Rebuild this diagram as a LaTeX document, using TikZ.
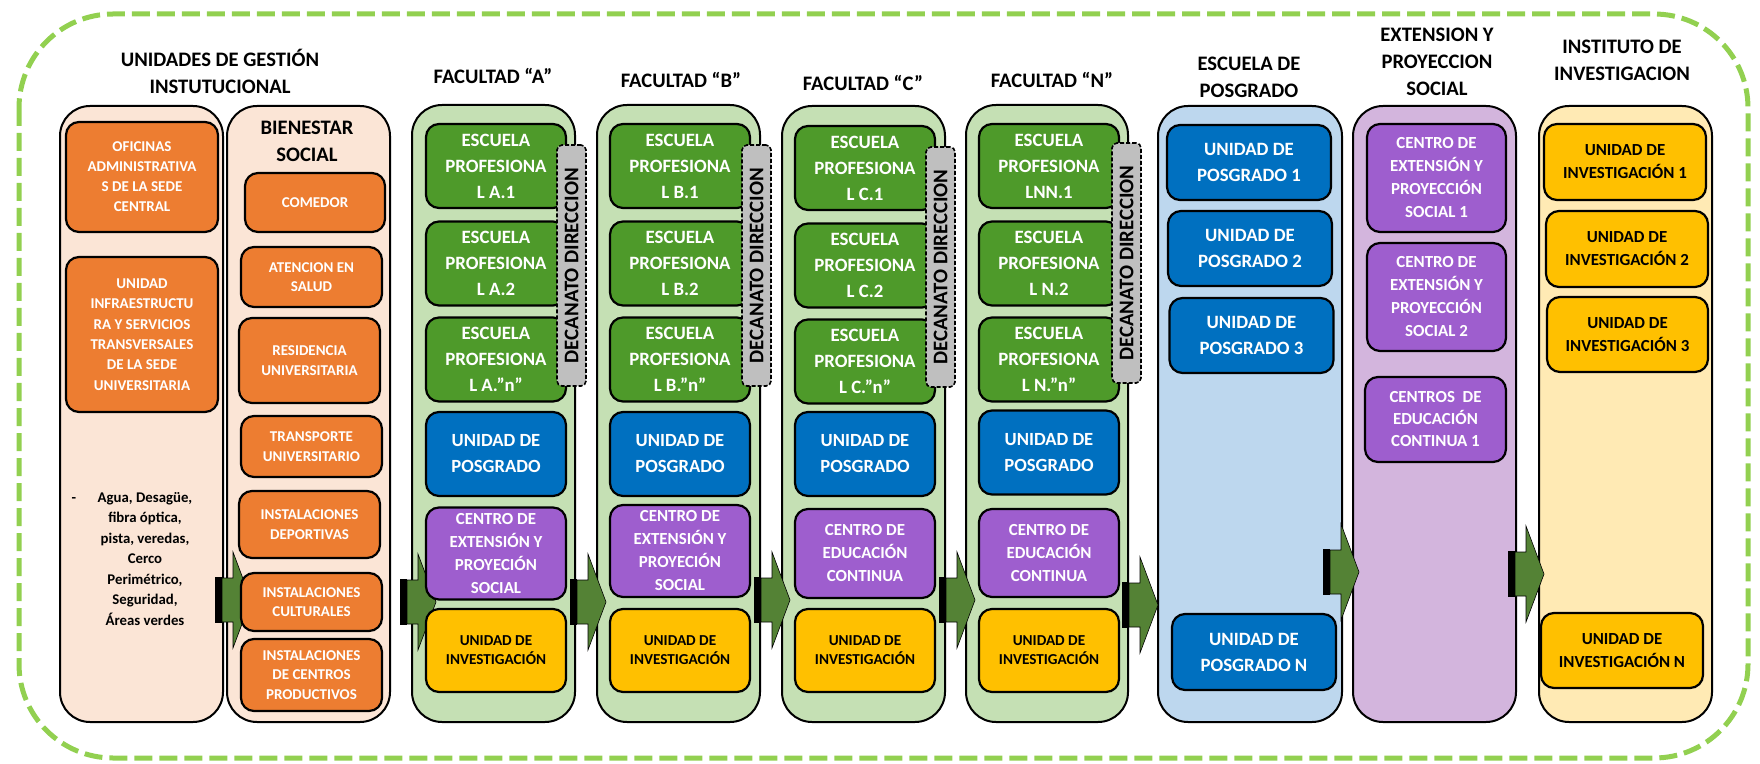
\documentclass[tikz,border=0pt]{standalone}
\usepackage{fontspec}
\setmainfont{Carlito}
\usepackage{xcolor}
\usetikzlibrary{fit}

\definecolor{borde}{HTML}{92D050}
\definecolor{melocoton}{HTML}{FBE5D6}
\definecolor{naranja}{HTML}{ED7D31}
\definecolor{verdeclaro}{HTML}{C5E0B4}
\definecolor{verdeosc}{HTML}{4E9A2A}
\definecolor{azul}{HTML}{0070C0}
\definecolor{azulclaro}{HTML}{BDD7EE}
\definecolor{morado}{HTML}{9E5ECE}
\definecolor{moradoclaro}{HTML}{D3B5DD}
\definecolor{amarillo}{HTML}{FFC000}
\definecolor{amarilloclaro}{HTML}{FFEAB4}
\definecolor{verdeflecha}{HTML}{548235}
\definecolor{gris}{HTML}{BFBFBF}

\tikzset{
  marco/.style={draw, line width=1pt, rounded corners=15pt, inner sep=0pt},
  tam/.style 2 args={minimum width=#1*0.5pt, minimum height=#2*0.5pt},
  caja/.style={draw, line width=1.1pt, rounded corners=6.5pt, inner sep=0pt, align=center},
  titulo/.style={align=center, font=\fontsize{10.3}{13.5}\selectfont\bfseries},
  naranjabox/.style={caja, fill=naranja, text=white, font=\fontsize{7.5}{9.7}\selectfont\bfseries},
  escuela/.style={caja, tam={140}{84}, fill=verdeosc, text=white, font=\fontsize{9.4}{13}\selectfont\bfseries},
  posgrado/.style={caja, tam={140}{84}, fill=azul, text=white, font=\fontsize{9.3}{13}\selectfont\bfseries},
  centro/.style={caja, tam={140}{92}, fill=morado, text=white, font=\fontsize{8.45}{11.5}\selectfont\bfseries},
  investig/.style={caja, tam={140}{83}, fill=amarillo, text=black, font=\fontsize{7.6}{9.5}\selectfont\bfseries},
  posgrador/.style={posgrado, tam={164}{75}, font=\fontsize{9.4}{13}\selectfont\bfseries},
  investigr/.style={caja, tam={162}{76}, fill=amarillo, text=black, font=\fontsize{8.45}{11.5}\selectfont\bfseries},
  decanato/.style={draw, dashed, dash pattern=on 2pt off 1pt, line width=0.8pt, rounded corners=2.5pt, fill=gris, inner sep=0pt},
  flecha/.pic={
    \fill (0,-23) rectangle (7,23);
    \filldraw[fill=verdeflecha, line width=0.3pt] (7,-22) -- (18,-22) -- (18,-48) -- (36,0) -- (18,48) -- (18,22) -- (7,22) -- cycle;
  }
}

\begin{document}
\begin{tikzpicture}[x=0.5pt, y=-0.5pt]
  \useasboundingbox (0,0) rectangle (1760,764);
  % borde exterior
  \draw[borde, line width=2.5pt, dash pattern=on 9pt off 3.5pt, rounded corners=47pt] (19,14) rectangle (1748,758);

  % titulos
  \node[titulo] (tuni) at (220,71) {UNIDADES DE GESTIÓN\\INSTUTUCIONAL};
  \node[titulo] (tfa) at (493,76) {FACULTAD “A”};
  \node[titulo] (tfb) at (681,80) {FACULTAD “B”};
  \node[titulo] (tfc) at (863,83) {FACULTAD “C”};
  \node[titulo] (tfn) at (1052,80) {FACULTAD “N”};
  \node[titulo] (tesc) at (1249,77) {ESCUELA DE\\POSGRADO};
  \node[titulo] (text) at (1437,62) {EXTENSION Y\\PROYECCION\\SOCIAL};
  \node[titulo] (tinst) at (1622,60) {INSTITUTO DE\\INVESTIGACION};

  % columnas
  \node[marco, fill=melocoton, fit={(60,106) (223,722)}] (uni) {};
  \node[marco, fill=melocoton, fit={(227,106) (390,722)}] (bien) {};
  \node[marco, fill=verdeclaro, fit={(412,105) (575,722)}] (facA) {};
  \node[marco, fill=verdeclaro, fit={(597,105) (760,722)}] (facB) {};
  \node[marco, fill=verdeclaro, fit={(782,106) (945,722)}] (facC) {};
  \node[marco, fill=verdeclaro, fit={(966,105) (1128,722)}] (facN) {};
  \node[marco, fill=azulclaro, fit={(1158,106) (1342,722)}] (esc) {};
  \node[marco, fill=moradoclaro, fit={(1353,106) (1516,722)}] (ext) {};
  \node[marco, fill=amarilloclaro, fit={(1539,106) (1712,722)}] (inst) {};

  % flechas
  \pic at (215,600) {flecha};
  \pic at (400,602) {flecha};
  \pic at (570,602) {flecha};
  \pic at (754,600) {flecha};
  \pic at (939,600) {flecha};
  \pic at (1122,605) {flecha};
  \pic at (1323,572) {flecha};
  \pic at (1508,574) {flecha};

  % unidades de gestion
  \node[naranjabox, tam={152}{110}, font=\fontsize{7.5}{10}\selectfont\bfseries] (ofi) at (142,177) {OFICINAS\\ADMINISTRATIVA\\S DE LA SEDE\\CENTRAL};
  \node[naranjabox, tam={152}{155}, font=\fontsize{7.5}{10.2}\selectfont\bfseries] (infra) at (142,334.5) {UNIDAD\\INFRAESTRUCTU\\RA Y SERVICIOS\\TRANSVERSALES\\DE LA SEDE\\UNIVERSITARIA};
  \node[align=center, font=\fontsize{7.4}{10.25}\selectfont\bfseries] (agua) at (145,559) {Agua, Desagüe,\\fibra óptica,\\pista, veredas,\\Cerco\\Perimétrico,\\Seguridad,\\Áreas verdes};
  \node[font=\fontsize{7.4}{10.25}\selectfont\bfseries] (guion) at (74,500) {-};

  % bienestar social
  \node[titulo] (tbien) at (307,141) {BIENESTAR\\SOCIAL};
  \node[naranjabox, tam={140}{59}] (com) at (315,202.5) {COMEDOR};
  \node[naranjabox, tam={141}{60}] (sal) at (311.5,277) {ATENCION EN\\SALUD};
  \node[naranjabox, tam={141}{85}] (res) at (309.5,360.5) {RESIDENCIA\\UNIVERSITARIA};
  \node[naranjabox, tam={141}{61}] (tra) at (311.5,446.5) {TRANSPORTE\\UNIVERSITARIO};
  \node[naranjabox, tam={141}{67}] (dep) at (309.5,524.5) {INSTALACIONES\\DEPORTIVAS};
  \node[naranjabox, tam={141}{58}] (cul) at (311.5,602) {INSTALACIONES\\CULTURALES};
  \node[naranjabox, tam={141}{72}] (pro) at (311.5,675) {INSTALACIONES\\DE CENTROS\\PRODUCTIVOS};

  % facultad A
  \node[escuela] (a1) at (496,166) {ESCUELA\\PROFESIONA\\L A.1};
  \node[escuela] (a2) at (496,263.5) {ESCUELA\\PROFESIONA\\L A.2};
  \node[escuela] (a3) at (496,359.5) {ESCUELA\\PROFESIONA\\L A.”n”};
  \node[posgrado] (ap) at (496,454) {UNIDAD DE\\POSGRADO};
  \node[centro] (ac) at (496,553.5) {CENTRO DE\\EXTENSIÓN Y\\PROYECIÓN\\SOCIAL};
  \node[investig] (ai) at (496,650.5) {UNIDAD DE\\INVESTIGACIÓN};
  \node[decanato, fit={(557,145) (586,386)}] (adec) {};
  \node[rotate=90, font=\fontsize{10.4}{12}\selectfont\bfseries] (adect) at (adec.center) {DECANATO DIRECCION};

  % facultad B
  \node[escuela] (b1) at (680,166) {ESCUELA\\PROFESIONA\\L B.1};
  \node[escuela] (b2) at (680,263.5) {ESCUELA\\PROFESIONA\\L B.2};
  \node[escuela] (b3) at (680,359.5) {ESCUELA\\PROFESIONA\\L B.”n”};
  \node[posgrado] (bp) at (680,454) {UNIDAD DE\\POSGRADO};
  \node[centro] (bc) at (680,551) {CENTRO DE\\EXTENSIÓN Y\\PROYECIÓN\\SOCIAL};
  \node[investig] (bi) at (680,650.5) {UNIDAD DE\\INVESTIGACIÓN};
  \node[decanato, fit={(742,145) (771,386)}] (bdec) {};
  \node[rotate=90, font=\fontsize{10.4}{12}\selectfont\bfseries] (bdect) at (bdec.center) {DECANATO DIRECCION};

  % facultad C
  \node[escuela] (c1) at (865,168) {ESCUELA\\PROFESIONA\\L C.1};
  \node[escuela] (c2) at (865,265.5) {ESCUELA\\PROFESIONA\\L C.2};
  \node[escuela] (c3) at (865,361.5) {ESCUELA\\PROFESIONA\\L C.”n”};
  \node[posgrado] (cp) at (865,454) {UNIDAD DE\\POSGRADO};
  \node[centro, tam={140}{89}] (cc) at (865,553.5) {CENTRO DE\\EDUCACIÓN\\CONTINUA};
  \node[investig] (ci) at (865,650.5) {UNIDAD DE\\INVESTIGACIÓN};
  \node[decanato, fit={(926,147) (955,387)}] (cdec) {};
  \node[rotate=90, font=\fontsize{10.4}{12}\selectfont\bfseries] (cdect) at (cdec.center) {DECANATO DIRECCION};

  % facultad N
  \node[escuela] (n1) at (1049,166) {ESCUELA\\PROFESIONA\\LNN.1};
  \node[escuela] (n2) at (1049,263.5) {ESCUELA\\PROFESIONA\\L N.2};
  \node[escuela] (n3) at (1049,359.5) {ESCUELA\\PROFESIONA\\L N.”n”};
  \node[posgrado] (np) at (1049,452.5) {UNIDAD DE\\POSGRADO};
  \node[centro, tam={140}{88}] (nc) at (1049,553) {CENTRO DE\\EDUCACIÓN\\CONTINUA};
  \node[investig] (ni) at (1049,650.5) {UNIDAD DE\\INVESTIGACIÓN};
  \node[decanato, fit={(1112,143) (1141,383)}] (ndec) {};
  \node[rotate=90, font=\fontsize{10.4}{12}\selectfont\bfseries] (ndect) at (ndec.center) {DECANATO DIRECCION};

  % escuela de posgrado
  \node[posgrador] (p1) at (1249,162.5) {UNIDAD DE\\POSGRADO 1};
  \node[posgrador] (p2) at (1250,248.5) {UNIDAD DE\\POSGRADO 2};
  \node[posgrador] (p3) at (1251.5,335.5) {UNIDAD DE\\POSGRADO 3};
  \node[posgrador, tam={164}{76}] (pn) at (1254,652) {UNIDAD DE\\POSGRADO N};

  % extension y proyeccion social
  \node[centro, tam={139}{108}] (e1) at (1436.5,178) {CENTRO DE\\EXTENSIÓN Y\\PROYECCIÓN\\SOCIAL 1};
  \node[centro, tam={139}{108}] (e2) at (1436.5,297) {CENTRO DE\\EXTENSIÓN Y\\PROYECCIÓN\\SOCIAL 2};
  \node[centro, tam={141}{85}, font=\fontsize{8.45}{11}\selectfont\bfseries] (e3) at (1435.5,419.5) {CENTROS\ \ DE\\EDUCACIÓN\\CONTINUA 1};

  % instituto de investigacion
  \node[investigr] (i1) at (1625,162) {UNIDAD DE\\INVESTIGACIÓN 1};
  \node[investigr] (i2) at (1627,249) {UNIDAD DE\\INVESTIGACIÓN 2};
  \node[investigr, tam={161}{75}] (i3) at (1627.5,334.5) {UNIDAD DE\\INVESTIGACIÓN 3};
  \node[investigr, tam={162}{75}] (in) at (1622,650.5) {UNIDAD DE\\INVESTIGACIÓN N};
\end{tikzpicture}
\end{document}
